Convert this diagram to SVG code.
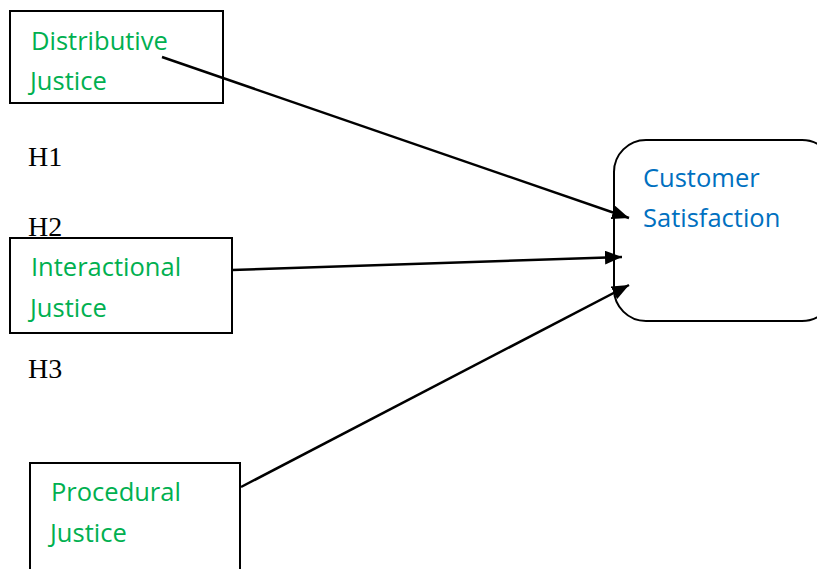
<svg xmlns="http://www.w3.org/2000/svg" width="817" height="569" viewBox="0 0 817 569">
<style>
.box{fill:#fff;stroke:#000;stroke-width:2}
.g{fill:#00B050;font-family:"Open Sans","Noto Sans",sans-serif;font-size:25.5px}
.b{fill:#0070C0;font-family:"Open Sans","Noto Sans",sans-serif;font-size:25.5px}
.h{fill:#000;font-family:"Liberation Serif","Times New Roman",serif;font-size:28px}
.c{stroke:#000;stroke-width:2.5;fill:none;marker-end:url(#ah)}
</style>
<defs>
<marker id="ah" markerUnits="userSpaceOnUse" markerWidth="18" markerHeight="14" refX="17" refY="7" orient="auto">
<path d="M0,0 L17,7 L0,14 Z" fill="#000"/>
</marker>
</defs>
<rect width="817" height="569" fill="#fff"/>
<g id="distributive">
<rect class="box" x="10" y="11" width="213" height="92"/>
<text class="g" x="31" y="50">Distributive</text>
<text class="g" x="30" y="90">Justice</text>
</g>
<g id="interactional">
<rect class="box" x="10" y="238" width="222" height="95"/>
<text class="g" x="31" y="276">Interactional</text>
<text class="g" x="30" y="317">Justice</text>
</g>
<g id="procedural">
<rect class="box" x="30" y="463" width="210" height="120"/>
<text class="g" x="51" y="501">Procedural</text>
<text class="g" x="50" y="542">Justice</text>
</g>
<g id="customer">
<rect class="box" x="614" y="140" width="220" height="181" rx="32" ry="32"/>
<text class="b" x="643" y="187">Customer</text>
<text class="b" x="643" y="227">Satisfaction</text>
</g>
<g id="labels">
<text class="h" x="28" y="166">H1</text>
<text class="h" x="28" y="236">H2</text>
<text class="h" x="28" y="378">H3</text>
</g>
<g id="connectors">
<line class="c" x1="162" y1="57" x2="629" y2="218"/>
<line class="c" x1="232" y1="270" x2="622" y2="257"/>
<line class="c" x1="241" y1="487" x2="629" y2="285"/>
</g>
</svg>
